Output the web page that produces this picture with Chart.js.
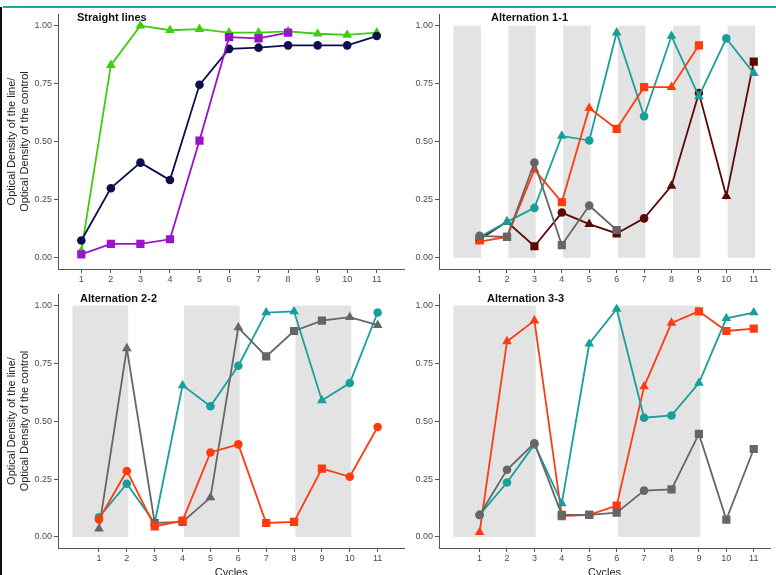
<!DOCTYPE html>
<html>
<head>
<meta charset="utf-8">
<script src="https://cdn.jsdelivr.net/npm/chart.js@4.4.0/dist/chart.umd.min.js"></script>
<style>
  body { margin: 0; width: 776px; height: 575px; overflow: hidden; background: #fff; position: relative; }
  canvas { position: absolute; }
  #topbar { position: absolute; left: 3px; top: 6px; width: 773px; height: 2px; background: #1ba7a2; }
  #leftbar { position: absolute; left: 0; top: 7px; width: 2px; height: 568px; background: #111; }
</style>
</head>
<body>
<div id="topbar"></div>
<div id="leftbar"></div>
<canvas id="straight" width="410" height="295" style="left:0;top:0"></canvas>
<canvas id="alt11" width="376" height="295" style="left:400px;top:0"></canvas>
<canvas id="alt22" width="410" height="300" style="left:0;top:280px"></canvas>
<canvas id="alt33" width="376" height="300" style="left:400px;top:280px"></canvas>
<script>
// data
const cycles = [1, 2, 3, 4, 5, 6, 7, 8, 9, 10, 11];
const yTicks = [0, 0.25, 0.5, 0.75, 1];

// Straight lines
const slGreen  = [0.03, 0.83, 1.00, 0.98, 0.985, 0.97, 0.97, 0.975, 0.965, 0.96, 0.97];
const slNavy   = [0.075, 0.30, 0.41, 0.335, 0.745, 0.90, 0.905, 0.915, 0.915, 0.915, 0.955];
const slPurple = [0.015, 0.06, 0.06, 0.08, 0.505, 0.95, 0.945, 0.97];

// Alternation 1-1
const a11Teal   = [0.09, 0.155, 0.215, 0.525, 0.505, 0.97, 0.61, 0.955, 0.695, 0.945, 0.795];
const a11Orange = [0.07, 0.09, 0.38, 0.24, 0.645, 0.555, 0.735, 0.735, 0.915];
const a11Gray   = [0.095, 0.09, 0.41, 0.055, 0.225, 0.12];
const a11Maroon = [0.08, 0.155, 0.05, 0.195, 0.145, 0.105, 0.17, 0.31, 0.71, 0.265, 0.845];
const a11Shades = [[0.05, 1.05], [2.05, 3.05], [4.05, 5.05], [6.05, 7.05], [8.05, 9.05], [10.05, 11.05]];

// Alternation 2-2
const a22Teal   = [0.085, 0.23, 0.06, 0.655, 0.565, 0.74, 0.97, 0.975, 0.59, 0.665, 0.97];
const a22Orange = [0.075, 0.285, 0.045, 0.07, 0.365, 0.40, 0.06, 0.065, 0.295, 0.26, 0.475];
const a22Gray   = [0.035, 0.815, 0.06, 0.065, 0.17, 0.905, 0.78, 0.89, 0.935, 0.95, 0.915];
const a22Shades = [[0.05, 2.05], [4.05, 6.05], [8.05, 10.05]];

// Alternation 3-3
const a33Orange = [0.02, 0.845, 0.935, 0.09, 0.095, 0.135, 0.65, 0.925, 0.975, 0.89, 0.90];
const a33Teal   = [0.095, 0.235, 0.40, 0.145, 0.835, 0.985, 0.515, 0.525, 0.665, 0.945, 0.97];
const a33Gray   = [0.095, 0.29, 0.405, 0.095, 0.095, 0.105, 0.20, 0.205, 0.445, 0.075, 0.38];
const a33Shades = [[0.05, 3.05], [6.05, 9.05]];

// marker shape per point: c = circle, t = triangle, s = square
const shapeStyle = { c: 'circle', t: 'triangle', s: 'rect' };
const shapeRadius = { c: 4.3, t: 5.6, s: 5.8 };

const axisColor = '#555';
const tickColor = '#4d4d4d';
const fontFam = '"Liberation Sans", Arial, sans-serif';

// shaded bands + panel title
const panelDecor = {
  id: 'panelDecor',
  beforeDatasetsDraw(chart, args, opts) {
    const { ctx, scales: { x, y } } = chart;
    ctx.save();
    ctx.fillStyle = '#e3e3e3';
    (opts.shades || []).forEach(([a, b]) => {
      const x0 = x.getPixelForValue(a), x1 = x.getPixelForValue(b);
      const y0 = y.getPixelForValue(1), y1 = y.getPixelForValue(0);
      ctx.fillRect(x0, y0, x1 - x0, y1 - y0);
    });
    ctx.restore();
  },
  afterDraw(chart, args, opts) {
    const { ctx, chartArea } = chart;
    ctx.save();
    ctx.font = 'bold 11px ' + fontFam;
    ctx.fillStyle = '#111';
    ctx.textBaseline = 'middle';
    ctx.fillText(opts.text, chartArea.left + opts.dx, chartArea.top + opts.dy);
    ctx.restore();
  }
};

function series(values, color, shapes) {
  return {
    data: values.map((v, i) => ({ x: cycles[i], y: v })),
    borderColor: color,
    backgroundColor: color,
    borderWidth: 1.8,
    pointStyle: shapes.split('').map(k => shapeStyle[k]),
    pointRadius: shapes.split('').map(k => shapeRadius[k]),
    pointBorderWidth: 0,
    tension: 0
  };
}

function makePanel(cfg) {
  new Chart(document.getElementById(cfg.id), {
    type: 'line',
    data: { datasets: cfg.datasets },
    options: {
      responsive: false,
      animation: false,
      layout: { padding: { top: 14, right: cfg.padRight, left: 0, bottom: 0 } },
      plugins: {
        legend: { display: false },
        tooltip: { enabled: false },
        panelDecor: { text: cfg.title, dx: cfg.titleDx, dy: cfg.titleDy, shades: cfg.shades }
      },
      scales: {
        x: {
          type: 'linear',
          min: cfg.xMin,
          max: cfg.xMax,
          afterBuildTicks: s => { s.ticks = cycles.map(v => ({ value: v })); },
          afterFit: s => { s.height = cfg.xHeight; },
          grid: { drawOnChartArea: false, tickLength: 4, color: axisColor },
          border: { color: axisColor, width: 1 },
          ticks: { font: { size: 9, family: fontFam }, color: tickColor, padding: 1, maxRotation: 0, autoSkip: false },
          title: { display: cfg.xTitle, text: 'Cycles', color: '#222', font: { size: 11, family: fontFam }, padding: { top: 0, bottom: 0 } }
        },
        y: {
          min: -0.048,
          max: 1.05,
          afterBuildTicks: s => { s.ticks = yTicks.map(v => ({ value: v })); },
          afterFit: s => { s.width = cfg.yWidth; },
          grid: { drawOnChartArea: false, tickLength: 4, color: axisColor },
          border: { color: axisColor, width: 1 },
          ticks: { font: { size: 9, family: fontFam }, color: tickColor, padding: 2, callback: v => v.toFixed(2) },
          title: {
            display: cfg.yTitle,
            text: ['Optical Density of the line/', 'Optical Density of the control'],
            color: '#222',
            font: { size: 11, family: fontFam, lineHeight: 1.2 },
            padding: { top: 5, bottom: 0 }
          }
        }
      }
    },
    plugins: [panelDecor]
  });
}

makePanel({
  id: 'straight', title: 'Straight lines', titleDx: 19, titleDy: 4,
  xMin: 0.21, xMax: 11.93, xHeight: 26, yWidth: 58, padRight: 4, xTitle: false, yTitle: true,
  shades: [],
  datasets: [
    series(slPurple, '#9a12cc', 'ssssssss'),
    series(slNavy, '#0d0d4f', 'ccccccccccc'),
    series(slGreen, '#3fcc12', 'ttttttttttt')
  ]
});

makePanel({
  id: 'alt11', title: 'Alternation 1-1', titleDx: 52, titleDy: 4,
  xMin: -0.48, xMax: 11.6, xHeight: 26, yWidth: 39, padRight: 1, xTitle: false, yTitle: false,
  shades: a11Shades,
  datasets: [
    series(a11Gray, '#666666', 'cscscs'),
    series(a11Orange, '#ff3b0f', 'tststssts'),
    series(a11Teal, '#17a09b', 'ttctctcttct'),
    series(a11Maroon, '#5c0808', 'stsctsctcts')
  ]
});

makePanel({
  id: 'alt22', title: 'Alternation 2-2', titleDx: 22, titleDy: 5,
  xMin: -0.47, xMax: 11.96, xHeight: 32, yWidth: 58, padRight: 4, xTitle: true, yTitle: true,
  shades: a22Shades,
  datasets: [
    series(a22Orange, '#ff3b0f', 'ccssccssscc'),
    series(a22Gray, '#666666', 'ttssttssstt'),
    series(a22Teal, '#17a09b', 'ccttcctttcc')
  ]
});

makePanel({
  id: 'alt33', title: 'Alternation 3-3', titleDx: 48, titleDy: 5,
  xMin: -0.48, xMax: 11.6, xHeight: 32, yWidth: 39, padRight: 1, xTitle: true, yTitle: false,
  shades: a33Shades,
  datasets: [
    series(a33Gray, '#666666', 'cccssscssss'),
    series(a33Teal, '#17a09b', 'ccctttccttt'),
    series(a33Orange, '#ff3b0f', 'tttsssttsss')
  ]
});
</script>
</body>
</html>
